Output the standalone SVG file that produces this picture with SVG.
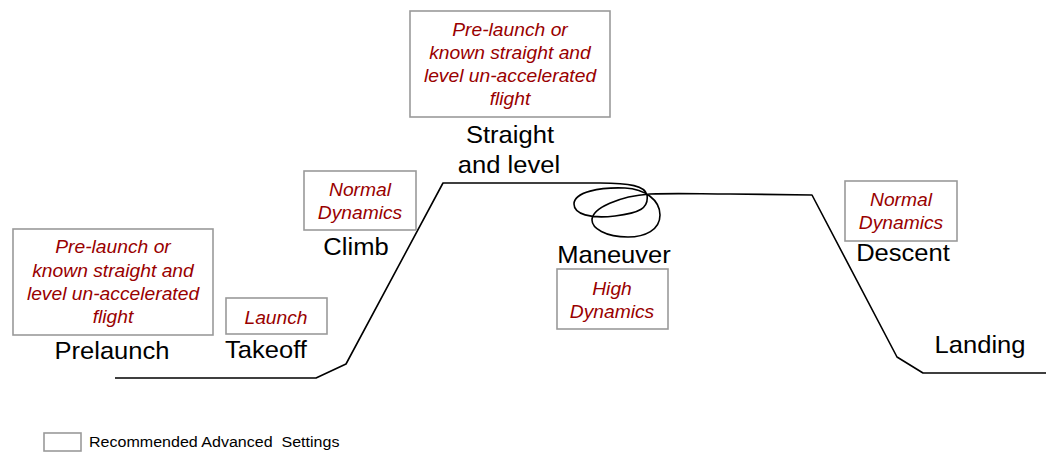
<svg xmlns="http://www.w3.org/2000/svg" width="1047" height="452" viewBox="0 0 1047 452">
<style>
.box{fill:#fff;stroke:#9a9a9a;stroke-width:1.6}
.note{font-family:"Liberation Sans",Arial,sans-serif;font-style:italic;font-size:18px;fill:#990000;text-anchor:middle}
.lbl{font-family:"Liberation Sans",Arial,sans-serif;font-size:24px;fill:#000;text-anchor:middle}
.leg{font-family:"Liberation Sans",Arial,sans-serif;font-size:15px;fill:#000;white-space:pre}
.line{fill:none;stroke:#000;stroke-width:1.6;stroke-linejoin:round}
</style>
<rect width="1047" height="452" fill="#fff"/>
<g id="connectors">
<path class="line" d="M115,378 L316,378 L346,364 L443,183 L600,183 C630,183 645,186 647,195 C649,208 640,213 615,216 C590,219 574,214 574,204 C574,192 600,187 625,188 C645,189 660,200 660,215 C660,230 645,237 628,237 C605,237 592,228 592,220 C592,208 620,196 650,194 C680,193 700,194 730,194 L812,195 L897,357 L923,373 L1046,373"/>
</g>
<g id="prelaunch">
<rect class="box" x="13" y="229" width="200" height="106"/>
<text class="note" transform="translate(113,253) scale(1.07,1)">Pre-launch or</text>
<text class="note" transform="translate(113,277) scale(1.07,1)">known straight and</text>
<text class="note" transform="translate(113,300) scale(1.07,1)">level un-accelerated</text>
<text class="note" transform="translate(113,323) scale(1.07,1)">flight</text>
<text class="lbl" transform="translate(112,359) scale(1.065,1)">Prelaunch</text>
</g>
<g id="takeoff">
<rect class="box" x="226" y="298" width="101" height="36"/>
<text class="note" transform="translate(276,324) scale(1.07,1)">Launch</text>
<text class="lbl" transform="translate(266,358) scale(1.065,1)">Takeoff</text>
</g>
<g id="climb">
<rect class="box" x="304" y="171" width="112" height="59"/>
<text class="note" transform="translate(360,196) scale(1.07,1)">Normal</text>
<text class="note" transform="translate(360,219) scale(1.07,1)">Dynamics</text>
<text class="lbl" transform="translate(356,255) scale(1.065,1)">Climb</text>
</g>
<g id="straight-level">
<rect class="box" x="410" y="11" width="200" height="106"/>
<text class="note" transform="translate(510,36) scale(1.07,1)">Pre-launch or</text>
<text class="note" transform="translate(510,59) scale(1.07,1)">known straight and</text>
<text class="note" transform="translate(510,82) scale(1.07,1)">level un-accelerated</text>
<text class="note" transform="translate(510,105) scale(1.07,1)">flight</text>
<text class="lbl" transform="translate(510,143) scale(1.065,1)">Straight</text>
<text class="lbl" transform="translate(509,173) scale(1.065,1)">and level</text>
</g>
<g id="maneuver">
<text class="lbl" transform="translate(614,263) scale(1.065,1)">Maneuver</text>
<rect class="box" x="557" y="269" width="111" height="60"/>
<text class="note" transform="translate(612,295) scale(1.07,1)">High</text>
<text class="note" transform="translate(612,318) scale(1.07,1)">Dynamics</text>
</g>
<g id="descent">
<rect class="box" x="845" y="181" width="112" height="60"/>
<text class="note" transform="translate(901,206) scale(1.07,1)">Normal</text>
<text class="note" transform="translate(901,229) scale(1.07,1)">Dynamics</text>
<text class="lbl" transform="translate(903,261) scale(1.065,1)">Descent</text>
</g>
<g id="landing">
<text class="lbl" transform="translate(980,353) scale(1.065,1)">Landing</text>
</g>
<g id="legend">
<rect class="box" x="44" y="433" width="37" height="18"/>
<text class="leg" transform="translate(89,447) scale(1.07,1)" xml:space="preserve">Recommended Advanced  Settings</text>
</g>
</svg>
